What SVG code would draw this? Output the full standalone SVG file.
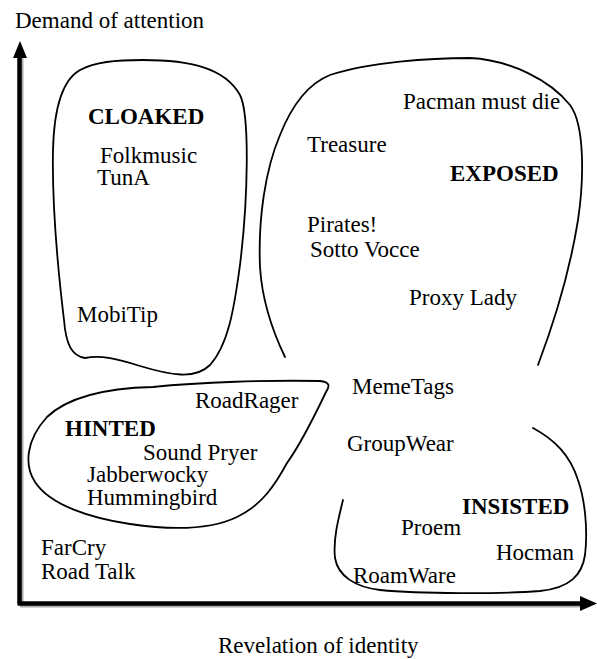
<svg xmlns="http://www.w3.org/2000/svg" width="597" height="659" viewBox="0 0 597 659">
<style>
  text { font-family: 'Liberation Serif', Tinos, 'Times New Roman', 'DejaVu Serif', serif; font-size: 23px; fill: #000; }
  .b { font-weight: bold; }
  .region { fill: none; stroke: #000; stroke-width: 1.8; stroke-linecap: round; }
  .axis { stroke: #000; stroke-width: 4.5; fill: none; }
  .shadow { stroke: #aaa; stroke-width: 3; fill: none; }
</style>
<rect width="597" height="659" fill="#fff"/>
<g id="axes" font-family="Liberation Serif, serif">
  <line class="shadow" x1="22" y1="58" x2="22" y2="606"/>
  <line class="shadow" x1="20" y1="606" x2="580" y2="606"/>
  <line class="axis" x1="19.5" y1="56" x2="19.5" y2="603.5"/>
  <line class="axis" x1="17.5" y1="603.5" x2="582" y2="603.5"/>
  <polygon points="20,41 13,58 27,58" fill="#000"/>
  <polygon points="597,603.5 580,596 580,611" fill="#000"/>
  <text x="15" y="28">Demand of attention</text>
  <text x="218" y="653">Revelation of identity</text>
</g>
<g id="cloaked">
  <path class="region" d="M 143 60 C 190 60, 225 68, 240 95 C 250 115, 248 200, 240 265 C 234 310, 228 345, 210 365 C 195 380, 170 375, 140 366 C 115 358, 100 355, 85 358 C 72 356, 66 345, 64 320 C 58 270, 52 200, 53 150 C 54 110, 62 80, 80 70 C 95 62, 115 60, 143 60 Z"/>
  <text class="b" x="88" y="124">CLOAKED</text>
  <text x="100" y="163">Folkmusic</text>
  <text x="97" y="185">TunA</text>
  <text x="77" y="322">MobiTip</text>
</g>
<g id="exposed">
  <path class="region" d="M 285 357 C 272 330, 262 300, 260 267 C 258 220, 265 170, 280 135 C 290 110, 305 85, 330 75 C 370 62, 430 58, 470 58 C 510 60, 550 80, 570 105 C 585 125, 584 180, 578 220 C 570 270, 555 320, 538 365"/>
  <text x="403" y="109">Pacman must die</text>
  <text x="307" y="152">Treasure</text>
  <text class="b" x="450" y="181">EXPOSED</text>
  <text x="307" y="232">Pirates!</text>
  <text x="310" y="257">Sotto Vocce</text>
  <text x="409" y="305">Proxy Lady</text>
</g>
<g id="hinted">
  <path class="region" d="M 320 381 C 330 382, 330 386, 326 392 C 315 415, 300 445, 287 463 C 275 485, 262 505, 237 517 C 210 530, 170 530, 130 524 C 90 518, 50 505, 35 482 C 24 465, 26 440, 47 417 C 70 395, 110 388, 153 387 C 200 382, 270 380, 320 381 Z"/>
  <text x="195" y="408">RoadRager</text>
  <text class="b" x="65" y="436">HINTED</text>
  <text x="143" y="460">Sound Pryer</text>
  <text x="87" y="482">Jabberwocky</text>
  <text x="87" y="505">Hummingbird</text>
</g>
<g id="unassigned">
  <text x="352" y="394">MemeTags</text>
  <text x="347" y="451">GroupWear</text>
  <text x="41" y="555">FarCry</text>
  <text x="41" y="579">Road Talk</text>
</g>
<g id="insisted">
  <path class="region" d="M 343 500 C 338 520, 333 540, 335 558 C 338 576, 355 587, 380 590 C 420 594, 500 594, 540 591 C 570 588, 582 575, 585 555 C 588 530, 585 500, 578 480 C 570 455, 555 440, 533 428"/>
  <text class="b" x="462" y="514">INSISTED</text>
  <text x="401" y="535">Proem</text>
  <text x="496" y="560">Hocman</text>
  <text x="353" y="583">RoamWare</text>
</g>
</svg>
